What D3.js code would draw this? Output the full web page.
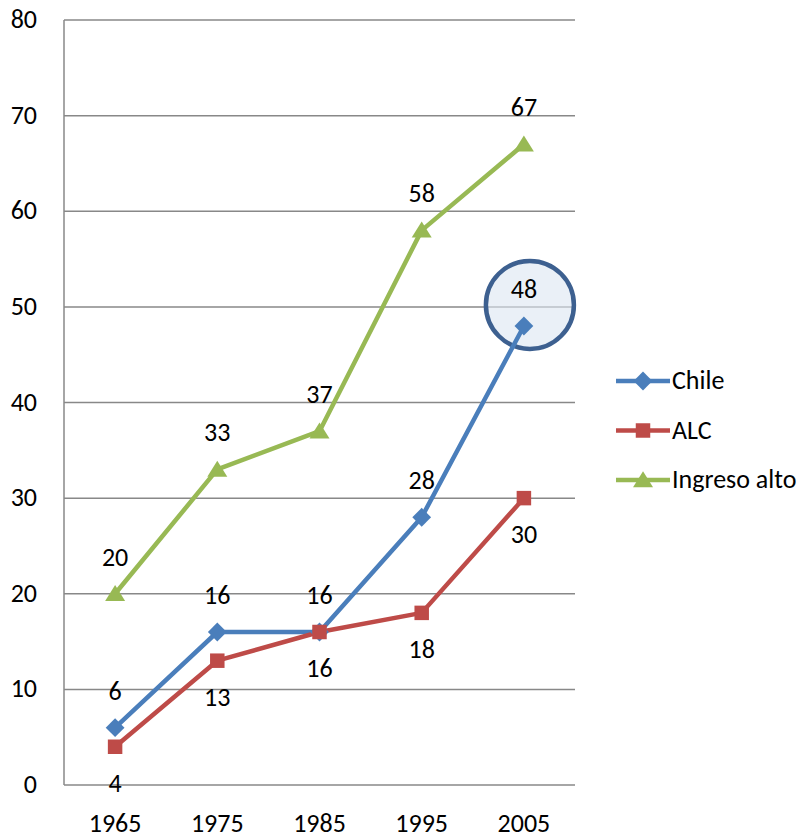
<!DOCTYPE html>
<html><head><meta charset="utf-8">
<script src="https://cdn.jsdelivr.net/npm/d3@7"></script>
<style>body{margin:0;background:#fff}svg{display:block}text{font-family:Carlito,Lato,"Open Sans",sans-serif;fill:#000}</style>
</head><body><svg id="c" width="804" height="839"></svg>
<script>
const years = ["1965","1975","1985","1995","2005"];
const chile = [6,16,16,28,48];
const alc = [4,13,16,18,30];
const ingresoAlto = [20,33,37,58,67];
const yTicks = [0,10,20,30,40,50,60,70,80];
const seriesNames = ["Chile","ALC","Ingreso alto"];

const svg = d3.select("#c");
const L=64,R=575,T=20,B=785;
const FS=26;
const x = d3.scaleBand().domain(years).range([L,R]);
const y = d3.scaleLinear().domain([0,80]).range([B,T]);
const grid="#888";

svg.append("g").selectAll("line").data(yTicks).join("line")
  .attr("x1",L).attr("x2",R).attr("y1",d=>y(d)).attr("y2",d=>y(d))
  .attr("stroke",grid).attr("stroke-width",1.5);
svg.append("line").attr("x1",L).attr("x2",L).attr("y1",T).attr("y2",B).attr("stroke",grid).attr("stroke-width",1.5);

svg.append("g").selectAll("text").data(yTicks).join("text")
  .attr("x",37).attr("y",d=>y(d)+8).attr("text-anchor","end").attr("font-size",FS).text(d=>d);
svg.append("g").selectAll("text").data(years).join("text")
  .attr("x",d=>x(d)+x.bandwidth()/2).attr("y",832).attr("text-anchor","middle").attr("font-size",FS).text(d=>d);

const cx = d=>x(d)+x.bandwidth()/2;
const diamond = {draw(ctx,size){const r=Math.sqrt(size)/2*1.05;ctx.moveTo(0,-r);ctx.lineTo(r,0);ctx.lineTo(0,r);ctx.lineTo(-r,0);ctx.closePath();}};
const tri = {draw(ctx,size){const w=Math.sqrt(size)*1.0;const h=w*0.8;ctx.moveTo(0,-h*0.55);ctx.lineTo(w/2,h*0.45);ctx.lineTo(-w/2,h*0.45);ctx.closePath();}};
const series = [
 {name:seriesNames[0],vals:chile,color:"#4a7ebb",shape:diamond,size:320,labelDy:-28},
 {name:seriesNames[1],vals:alc,color:"#be4b48",shape:d3.symbolSquare,size:210,labelDy:45},
 {name:seriesNames[2],vals:ingresoAlto,color:"#98b954",shape:tri,size:400,labelDy:-28}
];
const line = d3.line().x((d,i)=>cx(years[i])).y(d=>y(d));

// highlight circle around last Chile point
svg.append("circle").attr("cx",cx("2005")+6).attr("cy",y(50)-2).attr("r",44)
  .attr("fill","rgba(220,230,242,0.6)").attr("stroke","#3d6090").attr("stroke-width",4.5);

series.forEach(s=>{
  svg.append("path").datum(s.vals).attr("d",line).attr("fill","none").attr("stroke",s.color).attr("stroke-width",4.5).attr("stroke-linejoin","round");
});
series.forEach(s=>{
  svg.append("g").selectAll("path").data(s.vals).join("path")
    .attr("transform",(d,i)=>`translate(${cx(years[i])},${y(d)})`)
    .attr("d",d3.symbol().type(s.shape).size(s.size)).attr("fill",s.color);
  svg.append("g").selectAll("text").data(s.vals).join("text")
    .attr("x",(d,i)=>cx(years[i])).attr("y",d=>y(d)+s.labelDy)
    .attr("text-anchor","middle").attr("font-size",FS).text(d=>d);
});

// legend
const lg = svg.append("g");
series.forEach((s,i)=>{
  const yy = 381 + i*49.5;
  lg.append("line").attr("x1",616).attr("x2",670).attr("y1",yy).attr("y2",yy).attr("stroke",s.color).attr("stroke-width",4.5);
  lg.append("path").attr("transform",`translate(643,${yy})`).attr("d",d3.symbol().type(s.shape).size(s.size)).attr("fill",s.color);
  lg.append("text").attr("x",672).attr("y",yy+8).attr("font-size",FS).text(s.name);
});
</script></body></html>
